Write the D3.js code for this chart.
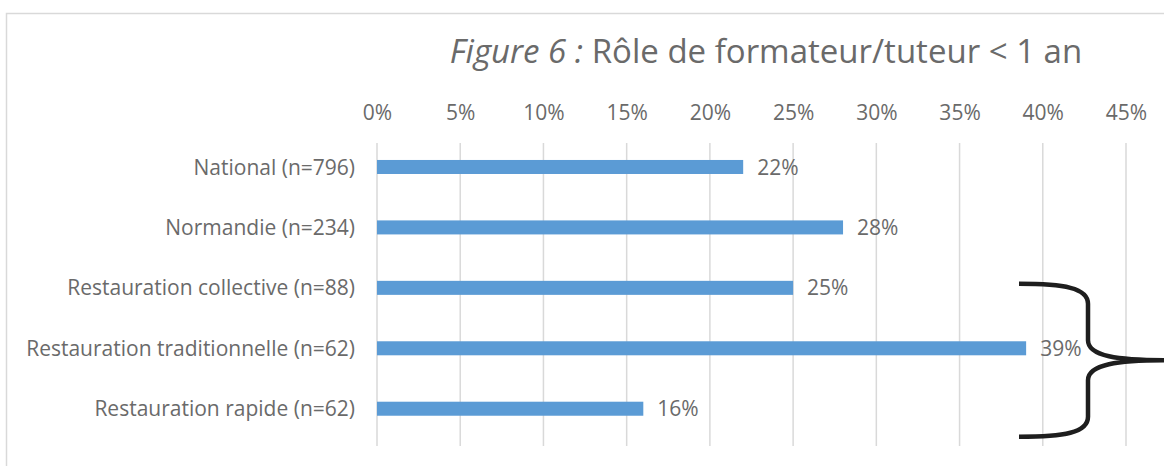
<!DOCTYPE html>
<html>
<head>
<meta charset="utf-8">
<script src="https://cdn.jsdelivr.net/npm/d3@7"></script>
<style>
  html, body { margin: 0; padding: 0; background: #fff; }
  svg { display: block; font-family: "Open Sans", "DejaVu Sans", sans-serif; }
</style>
</head>
<body>
<svg id="chart" width="1164" height="466"></svg>
<script>
// data
var categories = [
  "National (n=796)",
  "Normandie (n=234)",
  "Restauration collective (n=88)",
  "Restauration traditionnelle (n=62)",
  "Restauration rapide (n=62)"
];
var values = [22, 28, 25, 39, 16];
var tickValues = [0, 5, 10, 15, 20, 25, 30, 35, 40, 45];

var W = 1164, H = 466;
var textCol = "#6a6a6a";
var fontSize = "21px";

var svg = d3.select("#chart");

// frame (only top and left edges are visible)
svg.append("path")
  .attr("d", "M6.5 " + H + "V13.5H" + W)
  .attr("fill", "none")
  .attr("stroke", "#d9d9d9")
  .attr("stroke-width", 1.5);

// title
var title = svg.append("text")
  .attr("x", 766)
  .attr("y", 63)
  .attr("text-anchor", "middle")
  .attr("fill", textCol)
  .style("font-size", "33px");
title.append("tspan").style("font-style", "italic").text("Figure 6 :");
title.append("tspan").text(" Rôle de formateur/tuteur < 1 an");

var x = d3.scaleLinear().domain([0, 45]).range([377, 1126]);
var y = d3.scaleBand().domain(categories).range([136.7, 439])
  .paddingInner(0.768).paddingOuter(0.385);

// gridlines
svg.append("g")
  .selectAll("line")
  .data(tickValues)
  .join("line")
  .attr("x1", function (d) { return x(d); })
  .attr("x2", function (d) { return x(d); })
  .attr("y1", 143)
  .attr("y2", 446)
  .attr("stroke", "#d9d9d9")
  .attr("stroke-width", 1.5);

// top axis labels
var xAxis = d3.axisTop(x).tickValues(tickValues)
  .tickFormat(function (d) { return d + "%"; })
  .tickSize(0).tickPadding(0);
var gx = svg.append("g").attr("transform", "translate(0,120)").call(xAxis);
gx.select(".domain").remove();
gx.selectAll("text")
  .attr("fill", textCol)
  .attr("dy", 0)
  .style("font-size", fontSize)
  .style("font-family", "\"Open Sans\", sans-serif");

// category labels
var yAxis = d3.axisLeft(y).tickSize(0).tickPadding(0);
var gy = svg.append("g").attr("transform", "translate(355,0)").call(yAxis);
gy.select(".domain").remove();
gy.selectAll("text")
  .attr("fill", textCol)
  .attr("dy", "0.36em")
  .style("font-size", fontSize)
  .style("font-family", "\"Open Sans\", sans-serif");

var rows = categories.map(function (c, i) { return { cat: c, v: values[i] }; });

// bars
svg.append("g")
  .selectAll("rect")
  .data(rows)
  .join("rect")
  .attr("x", x(0))
  .attr("y", function (d) { return y(d.cat); })
  .attr("width", function (d) { return x(d.v) - x(0); })
  .attr("height", y.bandwidth())
  .attr("fill", "#5b9bd5");

// value labels
svg.append("g")
  .selectAll("text")
  .data(rows)
  .join("text")
  .attr("x", function (d) { return x(d.v) + 14; })
  .attr("y", function (d) { return y(d.cat) + y.bandwidth() / 2; })
  .attr("dy", "0.36em")
  .attr("fill", textCol)
  .style("font-size", fontSize)
  .text(function (d) { return d.v + "%"; });

// curly brace grouping the three restauration rows
var yTop = y(categories[2]) + 3;
var yBot = y(categories[4]) + y.bandwidth() + 21;
var yMid = (yTop + yBot) / 2;
var bx0 = 1019, bx1 = 1088, bx2 = 1166;
var brace = d3.path();
brace.moveTo(bx0, yTop);
brace.bezierCurveTo(bx0 + 45, yTop, bx1, yTop + 4, bx1, yTop + 20);
brace.lineTo(bx1, yMid - 20);
brace.bezierCurveTo(bx1, yMid - 4, bx1 + 30, yMid, bx2, yMid);
brace.moveTo(bx2, yMid);
brace.bezierCurveTo(bx1 + 30, yMid, bx1, yMid + 4, bx1, yMid + 20);
brace.lineTo(bx1, yBot - 20);
brace.bezierCurveTo(bx1, yBot - 4, bx0 + 45, yBot, bx0, yBot);
svg.append("path")
  .attr("d", brace.toString())
  .attr("fill", "none")
  .attr("stroke", "#1e1e1e")
  .attr("stroke-width", 4.5)
  .attr("stroke-linecap", "butt");
</script>
</body>
</html>
